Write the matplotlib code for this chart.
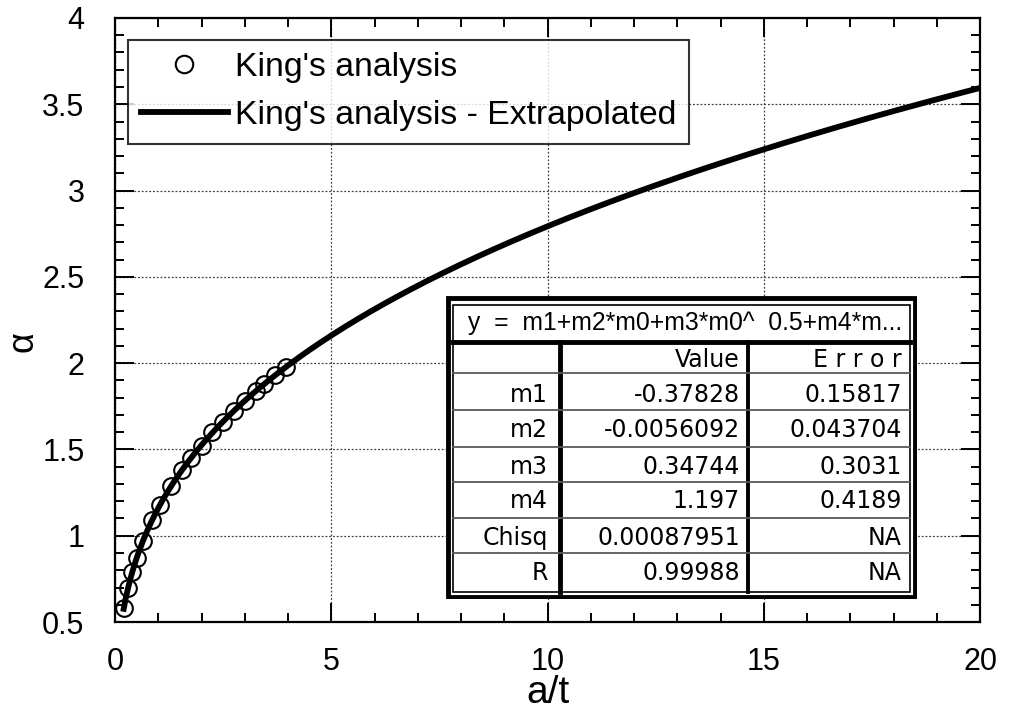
import numpy as np
import matplotlib
matplotlib.use('Agg')
import matplotlib.pyplot as plt
from matplotlib.patches import Rectangle

plt.rcParams['font.family'] = ['Liberation Sans', 'DejaVu Sans']

# King's analysis points (a/t, alpha)
king_at = [0.2, 0.3, 0.4, 0.5, 0.65, 0.85, 1.05, 1.3, 1.55, 1.75, 2.0,
           2.25, 2.5, 2.75, 3.0, 3.25, 3.45, 3.7, 3.95]
king_alpha = [0.58, 0.70, 0.79, 0.87, 0.97, 1.09, 1.18, 1.29, 1.38, 1.45, 1.52,
              1.60, 1.66, 1.72, 1.78, 1.84, 1.88, 1.93, 1.98]

# curve fit y = m1 + m2*x + m3*x^0.5 + m4*x^0.25
fit_names = ['m1', 'm2', 'm3', 'm4', 'Chisq', 'R']
fit_values = [-0.37828, -0.0056092, 0.34744, 1.197, 0.00087951, 0.99988]
fit_errors = ['0.15817', '0.043704', '0.3031', '0.4189', 'NA', 'NA']
value_labels = ['-0.37828', '-0.0056092', '0.34744', '1.197', '0.00087951', '0.99988']

m1, m2, m3, m4 = fit_values[:4]
x_fit = np.linspace(0.2, 20, 400)
y_fit = m1 + m2 * x_fit + m3 * x_fit ** 0.5 + m4 * x_fit ** 0.25

fig = plt.figure(figsize=(10.11, 7.13), dpi=100)
ax = fig.add_axes([0.1138, 0.1276, 0.8556, 0.8472])

ax.plot(king_at, king_alpha, 'o', mfc='none', mec='black', ms=12, mew=1.5,
        label="King's analysis", zorder=3)
ax.plot(x_fit, y_fit, '-', color='black', lw=4.2,
        label="King's analysis - Extrapolated", zorder=4)

ax.set_xlim(0, 20)
ax.set_ylim(0.5, 4)
ax.set_xticks([0, 5, 10, 15, 20])
ax.set_xticks(np.arange(0, 21, 1), minor=True)
ax.set_yticks([0.5, 1, 1.5, 2, 2.5, 3, 3.5, 4])
ax.set_yticklabels(['0.5', '1', '1.5', '2', '2.5', '3', '3.5', '4'])
ax.set_yticks(np.arange(0.5, 4.01, 0.1), minor=True)
ax.tick_params(which='both', direction='in', top=True, right=True, width=1.4)
ax.tick_params(which='major', length=14, labelsize=22)
ax.tick_params(axis='y', which='major', pad=22)
ax.tick_params(axis='x', which='major', pad=18)
ax.tick_params(which='minor', length=6.5)
for s in ax.spines.values():
    s.set_linewidth(1.6)

ax.grid(True, which='major', color='0.25', linestyle=(0, (1.5, 1.5)), lw=0.9)

ax.set_xlabel('a/t', fontsize=28, va='top')
ax.xaxis.set_label_coords(0.5, -0.088)
ax.set_ylabel('α', fontsize=26)
ax.yaxis.set_label_coords(-0.086, 0.464)

leg = ax.legend(loc='upper left', bbox_to_anchor=(0.015, 0.964), borderaxespad=0,
                fontsize=24.3, frameon=True, fancybox=False, handlelength=2.6,
                handletextpad=0.2, labelspacing=0.5, borderpad=0.37,
                markerscale=1.05)
leg.get_frame().set_edgecolor('black')
leg.get_frame().set_linewidth(1.5)

# fit results table, drawn in pixel units of its own box
tab = fig.add_axes([446 / 1011, 1 - 599 / 713, 471 / 1011, 303 / 713])
W, H = 471, 303
tab.set_xlim(0, W)
tab.set_ylim(H, 0)
tab.axis('off')
tab.add_patch(Rectangle((0, 0), W, H, facecolor='white', edgecolor='none', zorder=0))
tab.add_patch(Rectangle((2, 2), W - 4, H - 4, fill=False, edgecolor='black', lw=3.5))
tab.add_patch(Rectangle((7, 9), W - 14, H - 16, fill=False, edgecolor='black', lw=1.2))
tab.plot([7, W - 7], [46, 46], color='black', lw=3.5)
tab.plot([114, 114], [46, H - 7], color='black', lw=3.5)
tab.plot([302, 302], [46, H - 7], color='black', lw=2.8)
for yy in [77, 114, 150.5, 185.5, 222, 257]:
    tab.plot([7, W - 7], [yy, yy], color='0.35', lw=1.3)

tfont = dict(family='DejaVu Sans', fontsize=17, va='center')
tab.text(22, 27, 'y  =  m1+m2*m0+m3*m0^  0.5+m4*m...', ha='left',
         family='Liberation Sans', fontsize=17.8, va='center')
tab.text(294, 64, 'Value', ha='right', **tfont)
tab.text(456, 64, 'E r r o r', ha='right', **tfont)
row_y = [99, 134, 170.5, 205.5, 242, 277]
for yy, name, val, err in zip(row_y, fit_names, value_labels, fit_errors):
    tab.text(102, yy, name, ha='right', **tfont)
    tab.text(294, yy, val, ha='right', **tfont)
    tab.text(456, yy, err, ha='right', **tfont)

fig.savefig('out.png', dpi=100)
